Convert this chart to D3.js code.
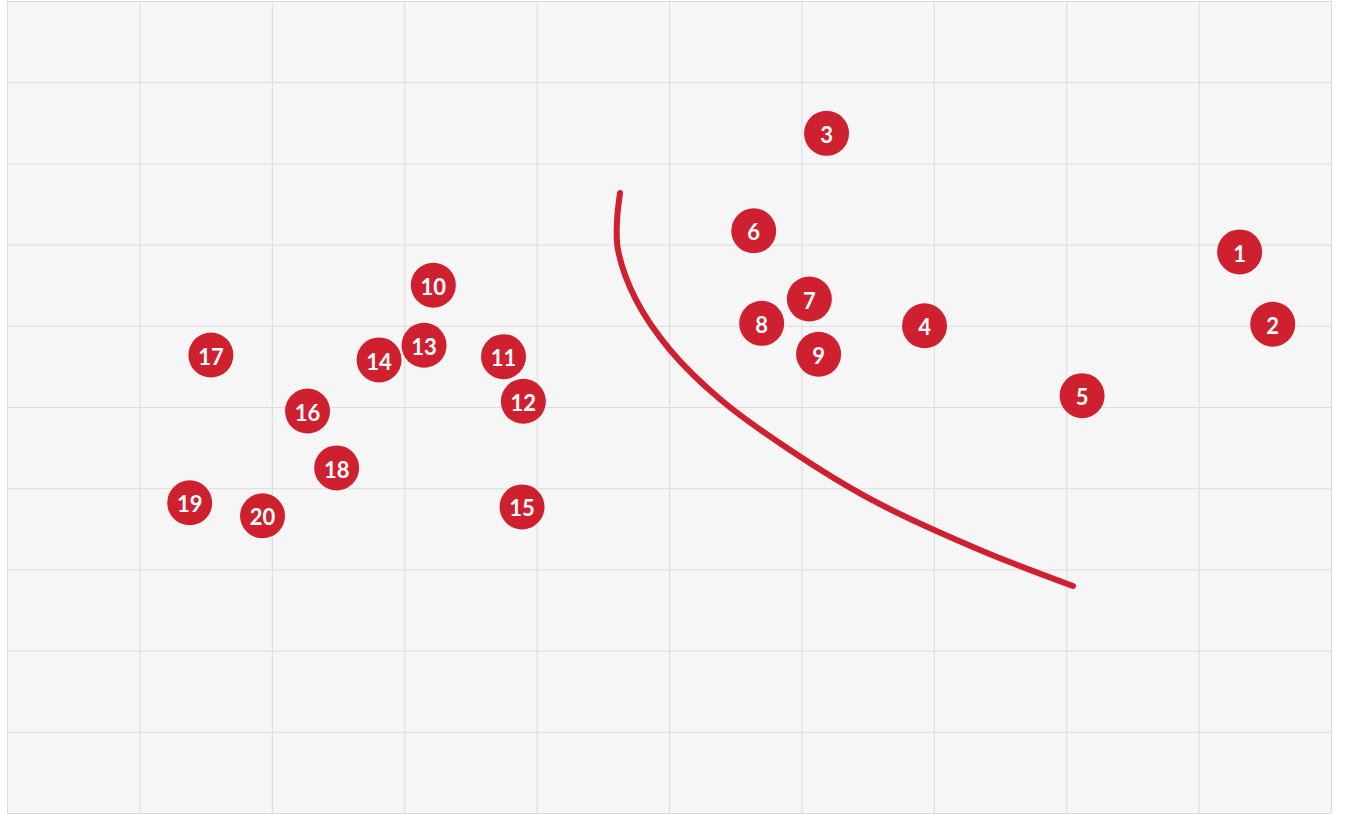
<!DOCTYPE html>
<html lang="en">
<head>
<meta charset="UTF-8">
<script src="https://d3js.org/d3.v7.min.js"></script>
<style>
  html, body { margin: 0; padding: 0; background: #fff; }
  svg { display: block; }
  .grid line, .grid path { stroke: #dcdcdc; stroke-width: 1; }
  .grid text { display: none; }
  .dot-label {
    font-family: 'Lato', sans-serif;
    font-weight: 700;
    font-size: 22px;
    fill: #fff;
    text-anchor: middle;
    dominant-baseline: central;
  }
</style>
</head>
<body>
<div id="chart"></div>
<script>
// point labels and positions (grid units, 0..10 both ways)
var labels = ["1","2","3","4","5","6","7","8","9","10","11","12","13","14","15","16","17","18","19","20"];
var xVals = [9.31, 9.56, 6.19, 6.93, 8.12, 5.64, 6.06, 5.70, 6.13, 3.22, 3.75, 3.90, 3.15, 2.81, 3.89, 2.27, 1.54, 2.49, 1.38, 1.93];
var yVals = [6.91, 6.02, 8.37, 6.00, 5.14, 7.17, 6.33, 6.03, 5.65, 6.50, 5.62, 5.07, 5.76, 5.58, 3.77, 4.95, 5.64, 4.25, 3.82, 3.66];

// dividing curve
var curveX = [4.630, 4.607, 4.615, 4.751, 5.008, 5.393, 5.914, 6.533, 7.349, 8.051];
var curveY = [7.635, 7.278, 6.933, 6.318, 5.702, 5.086, 4.470, 3.855, 3.239, 2.796];

var ticks = d3.range(0, 11);

var width = 1350, height = 814;
var margin = {top: 1, right: 19, bottom: 1, left: 7};
var w = width - margin.left - margin.right,
    h = height - margin.top - margin.bottom;

var red = "#cf2030";

var svg = d3.select("#chart").append("svg")
  .attr("width", width)
  .attr("height", height);

var g = svg.append("g")
  .attr("transform", "translate(" + margin.left + "," + margin.top + ")");

var x = d3.scaleLinear().domain([0, 10]).range([0, w]);
var y = d3.scaleLinear().domain([0, 10]).range([h, 0]);

g.append("rect")
  .attr("width", w)
  .attr("height", h)
  .attr("fill", "#f6f6f6");

g.append("g")
  .attr("class", "grid")
  .attr("transform", "translate(0," + h + ")")
  .call(d3.axisBottom(x).tickValues(ticks).tickSize(-h).tickFormat(""))
  .select(".domain").remove();

g.append("g")
  .attr("class", "grid")
  .call(d3.axisLeft(y).tickValues(ticks).tickSize(-w).tickFormat(""))
  .select(".domain").remove();

var curvePts = curveX.map(function(d, i) { return [d, curveY[i]]; });
var line = d3.line()
  .x(function(d) { return x(d[0]); })
  .y(function(d) { return y(d[1]); })
  .curve(d3.curveCatmullRom.alpha(0.5));

g.append("path")
  .datum(curvePts)
  .attr("d", line)
  .attr("fill", "none")
  .attr("stroke", red)
  .attr("stroke-width", 6)
  .attr("stroke-linecap", "round");

var dots = g.selectAll(".dot")
  .data(labels)
  .enter().append("g")
  .attr("class", "dot")
  .attr("transform", function(d, i) { return "translate(" + x(xVals[i]) + "," + y(yVals[i]) + ")"; });

dots.append("circle")
  .attr("r", 22.5)
  .attr("fill", red);

dots.append("text")
  .attr("class", "dot-label")
  .attr("dy", "0.05em")
  .text(function(d) { return d; });
</script>
</body>
</html>
